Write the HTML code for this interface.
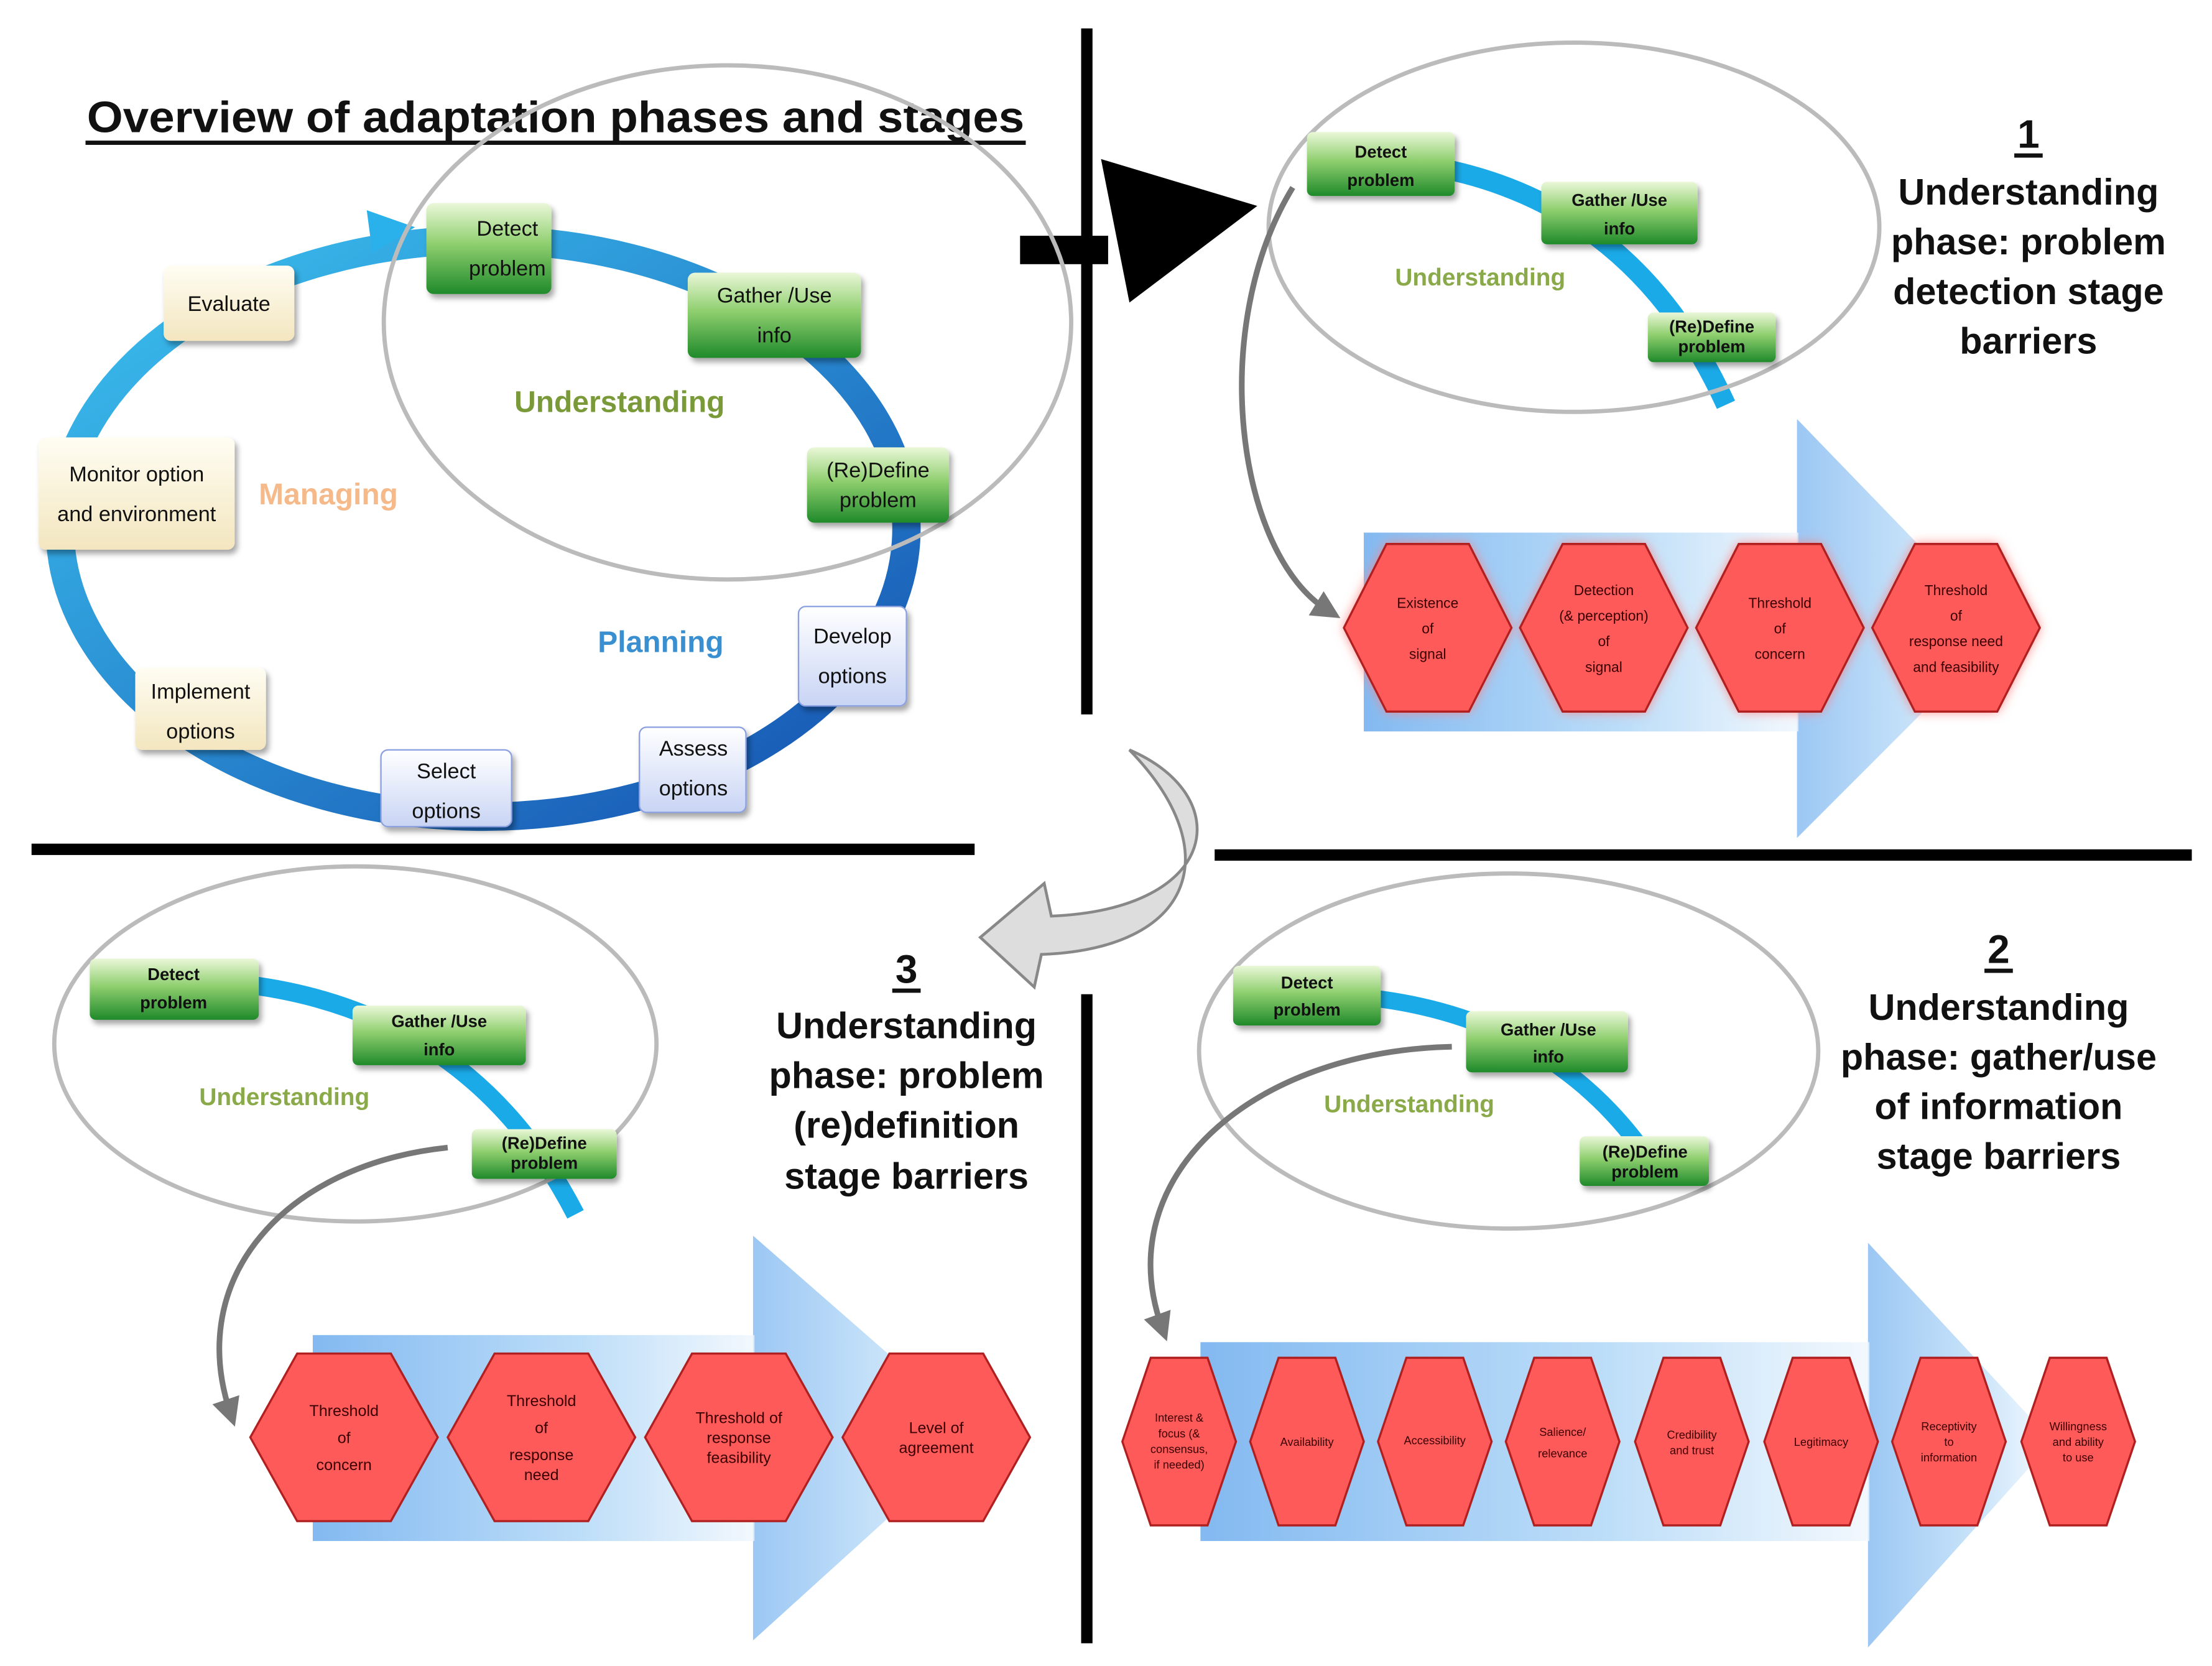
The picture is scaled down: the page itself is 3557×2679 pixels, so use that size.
<!DOCTYPE html>
<html><head><meta charset="utf-8"><style>html,body{margin:0;padding:0;background:#fff}svg{display:block}</style></head><body>
<svg width="3557" height="2679" viewBox="0 0 1557 1173" xmlns="http://www.w3.org/2000/svg" font-family="'Liberation Sans', sans-serif">
<defs>
<linearGradient id="gr" x1="0" y1="0" x2="0" y2="1"><stop offset="0" stop-color="#eaf7d8"/><stop offset="0.45" stop-color="#8fcf6f"/><stop offset="1" stop-color="#1f8a2a"/></linearGradient>
<linearGradient id="ring" x1="0" y1="0" x2="1" y2="1"><stop offset="0" stop-color="#3cc3f0"/><stop offset="1" stop-color="#1550b0"/></linearGradient>
<linearGradient id="arr" x1="0" y1="0" x2="1" y2="0"><stop offset="0" stop-color="#5aa2ec"/><stop offset="0.6" stop-color="#a6d2f6"/><stop offset="1" stop-color="#eef6fd"/></linearGradient>
<linearGradient id="bw" x1="0" y1="0" x2="0" y2="1"><stop offset="0" stop-color="#ffffff"/><stop offset="1" stop-color="#c8d4f4"/></linearGradient>
<linearGradient id="cr" x1="0" y1="0" x2="0" y2="1"><stop offset="0" stop-color="#fffdf3"/><stop offset="1" stop-color="#f3e6bf"/></linearGradient>
<filter id="glow" x="-20%" y="-20%" width="140%" height="140%"><feGaussianBlur stdDeviation="4"/></filter>
<filter id="sh" x="-10%" y="-10%" width="130%" height="140%"><feDropShadow dx="2" dy="3" stdDeviation="2" flood-color="#000" flood-opacity="0.35"/></filter>
<marker id="ah" markerWidth="5" markerHeight="5" refX="2.5" refY="2.5" orient="auto" markerUnits="strokeWidth"><path d="M0,0 L5,2.5 L0,5 Z" fill="#777"/></marker>
</defs>

<rect x="761" y="20" width="8" height="483" fill="#000"/>
<rect x="761" y="700" width="8" height="457" fill="#000"/>
<rect x="22" y="594" width="664" height="8" fill="#000"/>
<rect x="855" y="598" width="688" height="8" fill="#000"/>
<rect x="718" y="166" width="62" height="20" fill="#000"/>
<polygon points="775,112 885,145 795,213" fill="#000"/>

<text x="391" y="93" font-size="31" font-weight="bold" text-anchor="middle" fill="#111" textLength="660" lengthAdjust="spacingAndGlyphs">Overview of adaptation phases and stages</text>
<rect x="60" y="99" width="662" height="3" fill="#111"/>

<ellipse cx="340" cy="372" rx="298" ry="203" fill="none" stroke="url(#ring)" stroke-width="20"/>
<polygon points="258,148 292,160 262,178" fill="#2ab0ea"/>
<ellipse cx="512" cy="227" rx="242" ry="181" fill="none" stroke="#bbb" stroke-width="3"/>
<g font-size="15" text-anchor="middle" fill="#111">
<g filter="url(#sh)">
<rect x="300" y="143" width="88" height="64" rx="5" fill="url(#gr)"/>
<rect x="484" y="192" width="122" height="60" rx="5" fill="url(#gr)"/>
<rect x="568" y="315" width="100" height="53" rx="5" fill="url(#gr)"/>
<rect x="562" y="427" width="76" height="70" rx="5" fill="url(#bw)" stroke="#8aa0e0"/>
<rect x="450" y="512" width="75" height="60" rx="5" fill="url(#bw)" stroke="#8aa0e0"/>
<rect x="268" y="528" width="92" height="54" rx="5" fill="url(#bw)" stroke="#8aa0e0"/>
<rect x="95" y="470" width="92" height="58" rx="5" fill="url(#cr)"/>
<rect x="27" y="308" width="138" height="79" rx="5" fill="url(#cr)"/>
<rect x="115" y="187" width="92" height="53" rx="5" fill="url(#cr)"/>
</g>
<text x="357" y="166">Detect</text><text x="357" y="194">problem</text>
<text x="545" y="213">Gather /Use</text><text x="545" y="241">info</text>
<text x="618" y="336">(Re)Define</text><text x="618" y="357">problem</text>
<text x="600" y="453">Develop</text><text x="600" y="481">options</text>
<text x="488" y="532">Assess</text><text x="488" y="560">options</text>
<text x="314" y="548">Select</text><text x="314" y="576">options</text>
<text x="141" y="492">Implement</text><text x="141" y="520">options</text>
<text x="96" y="339">Monitor option</text><text x="96" y="367">and environment</text>
<text x="161" y="219">Evaluate</text>
</g>
<text x="436" y="290" font-size="21" font-weight="bold" text-anchor="middle" fill="#7a9a3a">Understanding</text>
<text x="231" y="355" font-size="21" font-weight="bold" text-anchor="middle" fill="#f5b98a">Managing</text>
<text x="465" y="459" font-size="21" font-weight="bold" text-anchor="middle" fill="#3a8fd0">Planning</text>

<path d="M795,528 C870,560 860,640 740,645 L735,622 L690,660 L728,695 L733,672 C840,668 865,600 795,528 Z" fill="#ddd" stroke="#888" stroke-width="2"/>

<!-- PANEL 1 -->
<polygon points="1265,295 1410,445 1265,590" fill="url(#arr)" opacity="0.6"/>
<rect x="960" y="375" width="306" height="140" fill="url(#arr)" opacity="0.75"/>
<path d="M960,112 Q1140,120 1215,285" fill="none" stroke="#1aaae8" stroke-width="14"/>
<ellipse cx="1108" cy="160" rx="215" ry="130" fill="none" stroke="#bbb" stroke-width="3"/>
<g font-size="12" text-anchor="middle" fill="#111" font-weight="bold">
<rect x="920" y="93" width="104" height="45" rx="4" fill="url(#gr)" filter="url(#sh)"/>
<rect x="1085" y="128" width="110" height="44" rx="4" fill="url(#gr)" filter="url(#sh)"/>
<rect x="1160" y="220" width="90" height="35" rx="4" fill="url(#gr)" filter="url(#sh)"/>
<text x="972" y="111">Detect</text><text x="972" y="131">problem</text>
<text x="1140" y="145">Gather /Use</text><text x="1140" y="165">info</text>
<text x="1205" y="234">(Re)Define</text><text x="1205" y="248">problem</text>
</g>
<text x="1042" y="201" font-size="17" font-weight="bold" text-anchor="middle" fill="#8aaa4a">Understanding</text>
<path d="M910,132 C850,230 870,390 935,430" fill="none" stroke="#777" stroke-width="4" marker-end="url(#ah)"/>
<g text-anchor="middle" font-weight="bold" fill="#111">
<text x="1428" y="104" font-size="28">1</text><rect x="1418" y="108" width="20" height="3" fill="#111"/>
<text x="1428" y="144" font-size="26">Understanding</text>
<text x="1428" y="179" font-size="26">phase: problem</text>
<text x="1428" y="214" font-size="26">detection stage</text>
<text x="1428" y="249" font-size="26">barriers</text>
</g>

<!-- PANEL 2 -->
<polygon points="1315,875 1445,1015 1315,1160" fill="url(#arr)" opacity="0.6"/>
<rect x="845" y="945" width="471" height="140" fill="url(#arr)" opacity="0.75"/>
<path d="M918,700 Q1080,700 1160,815" fill="none" stroke="#1aaae8" stroke-width="12"/>
<ellipse cx="1062" cy="740" rx="218" ry="125" fill="none" stroke="#bbb" stroke-width="3"/>
<g font-size="12" text-anchor="middle" fill="#111" font-weight="bold">
<rect x="868" y="680" width="104" height="42" rx="4" fill="url(#gr)" filter="url(#sh)"/>
<rect x="1032" y="712" width="114" height="43" rx="4" fill="url(#gr)" filter="url(#sh)"/>
<rect x="1112" y="800" width="91" height="35" rx="4" fill="url(#gr)" filter="url(#sh)"/>
<text x="920" y="696">Detect</text><text x="920" y="715">problem</text>
<text x="1090" y="729">Gather /Use</text><text x="1090" y="748">info</text>
<text x="1158" y="815">(Re)Define</text><text x="1158" y="829">problem</text>
</g>
<text x="992" y="783" font-size="17" font-weight="bold" text-anchor="middle" fill="#8aaa4a">Understanding</text>
<path d="M1022,737 C880,740 780,830 818,935" fill="none" stroke="#777" stroke-width="4" marker-end="url(#ah)"/>
<g text-anchor="middle" font-weight="bold" fill="#111">
<text x="1407" y="678" font-size="28">2</text><rect x="1397" y="682" width="20" height="3" fill="#111"/>
<text x="1407" y="718" font-size="26">Understanding</text>
<text x="1407" y="753" font-size="26">phase: gather/use</text>
<text x="1407" y="788" font-size="26">of information</text>
<text x="1407" y="823" font-size="26">stage barriers</text>
</g>

<!-- PANEL 3 -->
<polygon points="530,870 690,1010 530,1155" fill="url(#arr)" opacity="0.6"/>
<rect x="220" y="940" width="311" height="145" fill="url(#arr)" opacity="0.75"/>
<path d="M120,690 Q320,690 405,855" fill="none" stroke="#1aaae8" stroke-width="13"/>
<ellipse cx="250" cy="735" rx="212" ry="125" fill="none" stroke="#bbb" stroke-width="3"/>
<g font-size="12" text-anchor="middle" fill="#111" font-weight="bold">
<rect x="63" y="675" width="119" height="43" rx="4" fill="url(#gr)" filter="url(#sh)"/>
<rect x="248" y="708" width="122" height="42" rx="4" fill="url(#gr)" filter="url(#sh)"/>
<rect x="332" y="795" width="102" height="35" rx="4" fill="url(#gr)" filter="url(#sh)"/>
<text x="122" y="690">Detect</text><text x="122" y="710">problem</text>
<text x="309" y="723">Gather /Use</text><text x="309" y="743">info</text>
<text x="383" y="809">(Re)Define</text><text x="383" y="823">problem</text>
</g>
<text x="200" y="778" font-size="17" font-weight="bold" text-anchor="middle" fill="#8aaa4a">Understanding</text>
<path d="M315,808 C200,820 130,900 162,995" fill="none" stroke="#777" stroke-width="4" marker-end="url(#ah)"/>
<g text-anchor="middle" font-weight="bold" fill="#111">
<text x="638" y="692" font-size="28">3</text><rect x="628" y="696" width="20" height="3" fill="#111"/>
<text x="638" y="731" font-size="26">Understanding</text>
<text x="638" y="766" font-size="26">phase: problem</text>
<text x="638" y="801" font-size="26">(re)definition</text>
<text x="638" y="837" font-size="26">stage barriers</text>
</g>

<g fill="#ff5a5a" stroke="#b02020" stroke-width="1.5">
<polygon filter="url(#glow)" fill="#ff8080" stroke="none" points="946,442 976,383 1034,383 1064,442 1034,501 976,501"/>
<polygon points="946,442 976,383 1034,383 1064,442 1034,501 976,501"/>
<polygon filter="url(#glow)" fill="#ff8080" stroke="none" points="1070,442 1100,383 1158,383 1188,442 1158,501 1100,501"/>
<polygon points="1070,442 1100,383 1158,383 1188,442 1158,501 1100,501"/>
<polygon filter="url(#glow)" fill="#ff8080" stroke="none" points="1194,442 1224,383 1282,383 1312,442 1282,501 1224,501"/>
<polygon points="1194,442 1224,383 1282,383 1312,442 1282,501 1224,501"/>
<polygon filter="url(#glow)" fill="#ff8080" stroke="none" points="1318,442 1348,383 1406,383 1436,442 1406,501 1348,501"/>
<polygon points="1318,442 1348,383 1406,383 1436,442 1406,501 1348,501"/>
<polygon points="176,1012 209,953 275,953 308,1012 275,1071 209,1071"/>
<polygon points="315,1012 348,953 414,953 447,1012 414,1071 348,1071"/>
<polygon points="454,1012 487,953 553,953 586,1012 553,1071 487,1071"/>
<polygon points="593,1012 626,953 692,953 725,1012 692,1071 626,1071"/>
<polygon points="790,1015 810,956 850,956 870,1015 850,1074 810,1074"/>
<polygon points="880,1015 900,956 940,956 960,1015 940,1074 900,1074"/>
<polygon points="970,1015 990,956 1030,956 1050,1015 1030,1074 990,1074"/>
<polygon points="1060,1015 1080,956 1120,956 1140,1015 1120,1074 1080,1074"/>
<polygon points="1151,1015 1171,956 1211,956 1231,1015 1211,1074 1171,1074"/>
<polygon points="1242,1015 1262,956 1302,956 1322,1015 1302,1074 1262,1074"/>
<polygon points="1332,1015 1352,956 1392,956 1412,1015 1392,1074 1352,1074"/>
<polygon points="1423,1015 1443,956 1483,956 1503,1015 1483,1074 1443,1074"/>
</g>
<g text-anchor="middle" fill="#3a0000" font-size="10">
<text x="1005" y="428">Existence</text><text x="1005" y="446">of</text><text x="1005" y="464">signal</text>
<text x="1129" y="419">Detection</text><text x="1129" y="437">(&amp; perception)</text><text x="1129" y="455">of</text><text x="1129" y="473">signal</text>
<text x="1253" y="428">Threshold</text><text x="1253" y="446">of</text><text x="1253" y="464">concern</text>
<text x="1377" y="419">Threshold</text><text x="1377" y="437">of</text><text x="1377" y="455">response need</text><text x="1377" y="473">and feasibility</text>
</g>
<g text-anchor="middle" fill="#3a0000" font-size="11">
<text x="242" y="997">Threshold</text><text x="242" y="1016">of</text><text x="242" y="1035">concern</text>
<text x="381" y="990">Threshold</text><text x="381" y="1009">of</text><text x="381" y="1028">response</text><text x="381" y="1042">need</text>
<text x="520" y="1002">Threshold of</text><text x="520" y="1016">response</text><text x="520" y="1030">feasibility</text>
<text x="659" y="1009">Level of</text><text x="659" y="1023">agreement</text>
</g>
<g text-anchor="middle" fill="#3a0000" font-size="8">
<text x="830" y="1001">Interest &amp;</text><text x="830" y="1012">focus (&amp;</text><text x="830" y="1023">consensus,</text><text x="830" y="1034">if needed)</text>
<text x="920" y="1018">Availability</text>
<text x="1010" y="1017">Accessibility</text>
<text x="1100" y="1011">Salience/</text><text x="1100" y="1026">relevance</text>
<text x="1191" y="1013">Credibility</text><text x="1191" y="1024">and trust</text>
<text x="1282" y="1018">Legitimacy</text>
<text x="1372" y="1007">Receptivity</text><text x="1372" y="1018">to</text><text x="1372" y="1029">information</text>
<text x="1463" y="1007">Willingness</text><text x="1463" y="1018">and ability</text><text x="1463" y="1029">to use</text>
</g>
</svg>
</body></html>
